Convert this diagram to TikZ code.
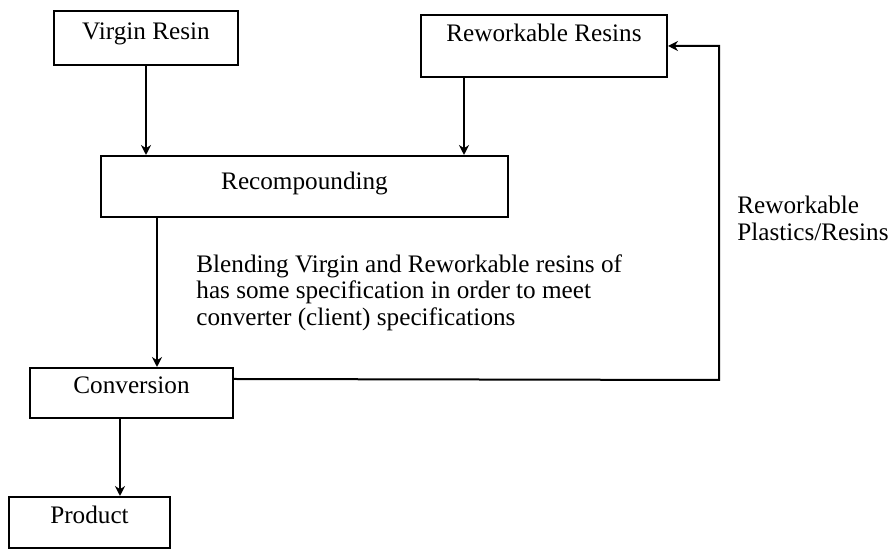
\documentclass[tikz,border=0pt]{standalone}
\usepackage{fontspec}
\setmainfont{Liberation Serif}
\usepackage{tikz}
\usetikzlibrary{positioning, arrows.meta, calc}

\begin{document}
\begin{tikzpicture}[
    x=0.5pt, y=-0.5pt,
    box/.style={draw, line width=1pt, inner xsep=2pt, inner ysep=0pt, text height=9pt, text depth=3pt, font=\fontsize{12.6}{13.4}\selectfont},
    arr/.style={-{Stealth[length=5pt, width=5pt]}, line width=1pt},
    txt/.style={align=left, inner sep=0pt, font=\fontsize{12.6}{13.4}\selectfont}
]
    \useasboundingbox (0,0) rectangle (890,549);

    \node[box, minimum width=92pt, minimum height=27pt, text depth=7pt] (virgin) at (146,38) {Virgin Resin};
    \node[box, minimum width=123pt, minimum height=31pt, text depth=13pt] (rework) at (544,46) {Reworkable Resins};
    \node[box, minimum width=203.5pt, minimum height=30.5pt, text depth=5.5pt] (recomp) at (304.5,186.5) {Recompounding};
    \node[box, minimum width=101.5pt, minimum height=25pt, text depth=8pt] (conv) at (131.5,393) {Conversion};
    \node[box, minimum width=80.5pt, minimum height=25.5pt, text depth=7.5pt] (prod) at (89.5,522.5) {Product};

    \node[txt, anchor=north west] (blend) at (196,254) {Blending Virgin and Reworkable resins of\\has some specification in order to meet\\converter (client) specifications};
    \node[txt, anchor=north west] (fblabel) at (737,196) {Reworkable\\Plastics/Resins};

    \draw[arr] (virgin.south) -- (virgin.south |- recomp.north);
    \draw[arr] ([xshift=22pt]rework.south west) -- ([xshift=22pt]rework.south west |- recomp.north);
    \draw[arr] ([xshift=28.5pt]recomp.south west) -- ([xshift=28.5pt]recomp.south west |- conv.north);
    \draw[arr] ([xshift=45.5pt]conv.south west) -- ([xshift=45.5pt]conv.south west |- prod.north);

    % reworked material goes back up
    \coordinate (turn) at (719,380);
    \draw[arr] ([yshift=-6pt]conv.north east) -- (turn) |- (rework.east);
\end{tikzpicture}
\end{document}
